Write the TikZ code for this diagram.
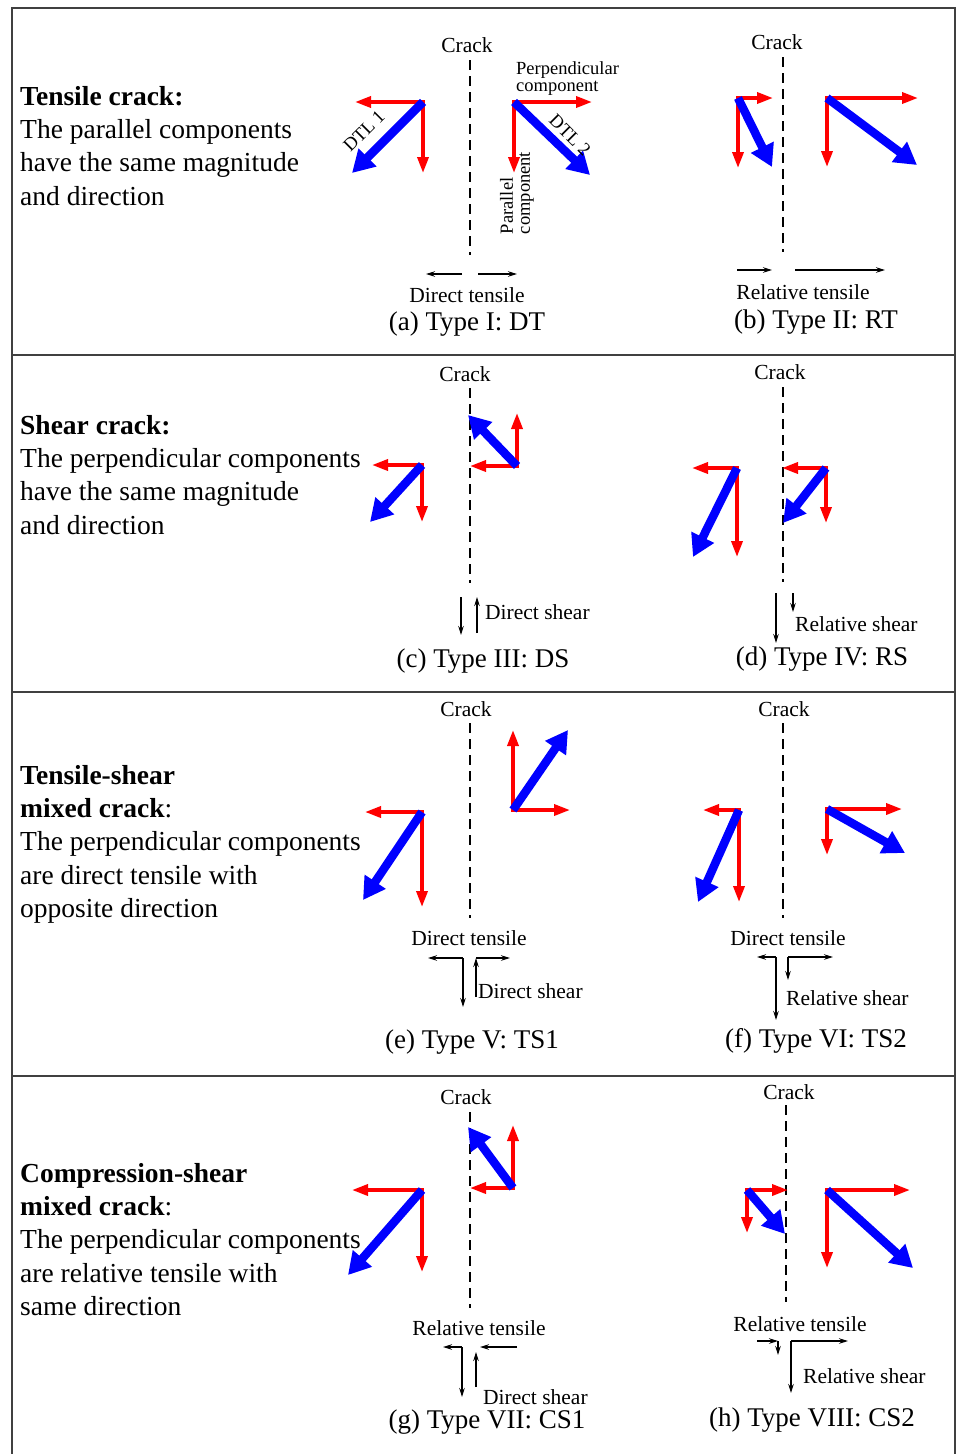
\documentclass[tikz,border=0pt]{standalone}
\usepackage{fontspec}
\setmainfont{Liberation Serif}
\usetikzlibrary{arrows.meta}

% one set of displacement vectors: origin, perpendicular, parallel, total
\newcommand{\compvec}[4]{%
  \draw[redv] (#1) -- ++(#2,0);
  \draw[redv] (#1) -- ++(0,#3);
  \draw[bluev] (#1) -- ++(#4);}

\begin{document}
\begin{tikzpicture}[x=1pt,y=-1pt,
  redv/.style={draw=red,line width=3.5pt,line cap=rect,-{Triangle[length=16pt,width=11pt]}},
  bluev/.style={draw=blue,line width=8.5pt,-{Triangle[length=22pt,width=24pt]}},
  crackline/.style={dash pattern=on 10pt off 6pt,line width=1.6pt},
  blk/.style={line width=1.3pt,-{Stealth[length=9pt,width=5.5pt]}},
  lbl/.style={font=\fontsize{21.5}{24}\selectfont,inner sep=0pt},
  typecap/.style={font=\fontsize{27}{30}\selectfont,inner sep=0pt},
  note/.style={font=\fontsize{18.5}{17}\selectfont,inner sep=0pt,align=left},
  desc/.style={font=\fontsize{27.5}{33.3}\selectfont,align=left,anchor=north west,inner sep=0pt},
  frame/.style={draw=black!75,line width=1.8pt}]
\useasboundingbox (0,0) rectangle (957,1454);

% frame and rows
\draw[frame] (12,1454) -- (12,8) -- (955,8) -- (955,1454);
\draw[frame] (12,355) -- (955,355);
\draw[frame] (12,692) -- (955,692);
\draw[frame] (12,1076) -- (955,1076);

% descriptions
\node[desc] (txt1) at (20,86) {\textbf{Tensile crack:}\\The parallel components\\have the same magnitude\\and direction};
\node[desc] (txt2) at (20,415) {\textbf{Shear crack:}\\The perpendicular components\\have the same magnitude\\and direction};
\node[desc] (txt3) at (20,765) {\textbf{Tensile-shear}\\\textbf{mixed crack}:\\The perpendicular components\\are direct tensile with\\opposite direction};
\node[desc] (txt4) at (20,1163) {\textbf{Compression-shear}\\\textbf{mixed crack}:\\The perpendicular components\\are relative tensile with\\same direction};

% (a) Type I
\node[lbl] (crackA) at (467,45) {Crack};
\draw[crackline] (470,60) -- (470,255);
\coordinate (oA1) at (423,102);
\coordinate (oA2) at (514,102);
\compvec{oA1}{-68}{71}{-71,71}
\compvec{oA2}{78}{71}{76,73}
\node[note,rotate=45] (dtl1) at (364,131) {DTL 1};
\node[note,rotate=-45] (dtl2) at (570,135) {DTL 2};
\node[note,anchor=north west] (perp) at (516,61) {Perpendicular\\component};
\node[note,rotate=90] (para) at (517,193) {Parallel\\component};
\draw[blk] (462,274) -- (426,274);
\draw[blk] (478,274) -- (517,274);
\node[lbl] (relA) at (467,295) {Direct tensile};
\node[typecap] (capA) at (467,324) {(a) Type I: DT};

% (b) Type II
\node[lbl] (crackB) at (777,42) {Crack};
\draw[crackline] (783,57) -- (783,252);
\coordinate (oB1) at (738,98);
\coordinate (oB2) at (827,98);
\compvec{oB1}{35}{70}{34,69}
\compvec{oB2}{91}{69}{90,67}
\draw[blk] (737,270) -- (772,270);
\draw[blk] (795,270) -- (885,270);
\node[lbl] (relB) at (803,292) {Relative tensile};
\node[typecap] (capB) at (816,322) {(b) Type II: RT};

% (c) Type III
\node[lbl] (crackC) at (465,374) {Crack};
\draw[crackline] (470,388) -- (470,583);
\coordinate (oC1) at (422,465);
\coordinate (oC2) at (517,466);
\compvec{oC1}{-50}{57}{-52,57}
\compvec{oC2}{-47}{-53}{-49,-51}
\draw[blk] (461,597) -- (461,635);
\draw[blk] (477,633) -- (477,597);
\node[lbl,anchor=west] (relC) at (485,612) {Direct shear};
\node[typecap] (capC) at (483,661) {(c) Type III: DS};

% (d) Type IV
\node[lbl] (crackD) at (780,372) {Crack};
\draw[crackline] (783,387) -- (783,582);
\coordinate (oD1) at (737,468);
\coordinate (oD2) at (826,468);
\compvec{oD1}{-45}{89}{-44,89}
\compvec{oD2}{-44}{55}{-43,55}
\draw[blk] (776,593) -- (776,643);
\draw[blk] (793,593) -- (793,612);
\node[lbl,anchor=west] (relD) at (795,624) {Relative shear};
\node[typecap] (capD) at (822,659) {(d) Type IV: RS};

% (e) Type V
\node[lbl] (crackE) at (466,709) {Crack};
\draw[crackline] (470,723) -- (470,918);
\coordinate (oE1) at (422,812);
\coordinate (oE2) at (513,810);
\compvec{oE1}{-57}{95}{-59,88}
\compvec{oE2}{57}{-80}{55,-80}
\node[lbl] (relE) at (469,938) {Direct tensile};
\draw[blk] (463,958) -- (428,958);
\draw[blk] (463,958) -- (463,1007);
\draw[blk] (476,958) -- (510,958);
\draw[blk] (476,997) -- (476,958);
\node[lbl,anchor=west] (shE) at (478,991) {Direct shear};
\node[typecap] (capE) at (472,1042) {(e) Type V: TS1};

% (f) Type VI
\node[lbl] (crackF) at (784,709) {Crack};
\draw[crackline] (783,723) -- (783,918);
\coordinate (oF1) at (739,810);
\coordinate (oF2) at (827,809);
\compvec{oF1}{-36}{92}{-41,92}
\compvec{oF2}{75}{46}{78,44}
\node[lbl] (relF) at (788,938) {Direct tensile};
\draw[blk] (776,957) -- (757,957);
\draw[blk] (776,957) -- (776,1020);
\draw[blk] (788,957) -- (833,957);
\draw[blk] (788,957) -- (788,980);
\node[lbl,anchor=west] (shF) at (786,998) {Relative shear};
\node[typecap] (capF) at (816,1041) {(f) Type VI: TS2};

% (g) Type VII
\node[lbl] (crackG) at (466,1097) {Crack};
\draw[crackline] (470,1112) -- (470,1308);
\coordinate (oG1) at (422,1190);
\coordinate (oG2) at (513,1188);
\compvec{oG1}{-70}{82}{-74,85}
\compvec{oG2}{-43}{-63}{-45,-61}
\node[lbl] (relG) at (479,1328) {Relative tensile};
\draw[blk] (462,1347) -- (443,1347);
\draw[blk] (462,1347) -- (462,1397);
\draw[blk] (517,1347) -- (480,1347);
\draw[blk] (476,1387) -- (476,1352);
\node[lbl,anchor=west] (shG) at (483,1397) {Direct shear};
\node[typecap] (capG) at (487,1422) {(g) Type VII: CS1};

% (h) Type VIII
\node[lbl] (crackH) at (789,1092) {Crack};
\draw[crackline] (786,1105) -- (786,1302);
\coordinate (oH1) at (747,1190);
\coordinate (oH2) at (827,1190);
\compvec{oH1}{41}{43}{38,44}
\compvec{oH2}{83}{78}{86,78}
\node[lbl] (relH) at (800,1324) {Relative tensile};
\draw[blk] (757,1341) -- (778,1341);
\draw[blk] (778,1341) -- (778,1355);
\draw[blk] (791,1341) -- (848,1341);
\draw[blk] (791,1341) -- (791,1393);
\node[lbl,anchor=west] (shH) at (803,1376) {Relative shear};
\node[typecap] (capH) at (812,1420) {(h) Type VIII: CS2};
\end{tikzpicture}
\end{document}
